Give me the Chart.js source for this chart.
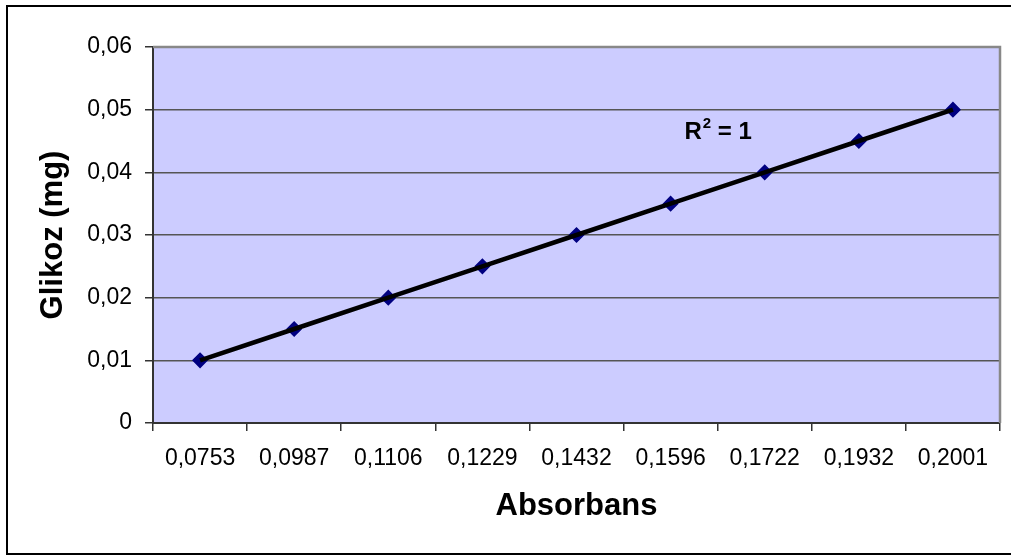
<!DOCTYPE html>
<html>
<head>
<meta charset="utf-8">
<title>Glikoz kalibrasyon</title>
<script src="https://cdn.jsdelivr.net/npm/chart.js@4.4.1/dist/chart.umd.min.js"></script>
<style>
  body { margin: 0; background: #ffffff; }
  #myChart { display: block; }
</style>
</head>
<body>
<canvas id="myChart" width="1011" height="556"></canvas>
<script>
/*
  Glikoz calibration chart: absorbance readings on the x axis,
  glucose amount (mg) on the y axis, with the R^2 of the trend line
*/

// Absorbance readings (category labels of the x axis)
const absorbans = ["0,0753", "0,0987", "0,1106", "0,1229", "0,1432", "0,1596", "0,1722", "0,1932", "0,2001"];

// Glucose amounts for each reading
const glikoz = [0.01, 0.015, 0.02, 0.025, 0.03, 0.035, 0.04, 0.045, 0.05];

// Tick labels of the y axis (comma decimals)
const yTickLabels = ["0", "0,01", "0,02", "0,03", "0,04", "0,05", "0,06"];

// Trend line note
const r2Text = { base: "R", sup: "2", rest: " = 1" };

const FONT = "'Liberation Sans', Arial, sans-serif";

// Fill the plot area and draw the frames around it and around the chart
const framePlugin = {
  id: "frame",
  beforeDraw(chart) {
    const ctx = chart.ctx;
    const a = chart.chartArea;
    ctx.save();
    ctx.fillStyle = "#ffffff";
    ctx.fillRect(0, 0, chart.width, chart.height);
    ctx.fillStyle = "#ccccff";
    ctx.fillRect(a.left, a.top, a.right - a.left, a.bottom - a.top);
    ctx.restore();
  },
  beforeDatasetsDraw(chart) {
    const ctx = chart.ctx;
    const a = chart.chartArea;
    ctx.save();
    ctx.strokeStyle = "#888888";
    ctx.lineWidth = 2.5;
    ctx.beginPath();
    ctx.moveTo(a.left, a.top);
    ctx.lineTo(a.right, a.top);
    ctx.lineTo(a.right, a.bottom);
    ctx.stroke();
    // outer chart border
    ctx.strokeStyle = "#000000";
    ctx.lineWidth = 2;
    ctx.strokeRect(7, 6, chart.width, 548);
    ctx.restore();
  },
  afterDatasetsDraw(chart) {
    // R^2 note next to the line, placed through the scales
    const ctx = chart.ctx;
    const x = chart.scales.x.getPixelForValue(5.5);
    const y = chart.scales.y.getPixelForValue(0.0463);
    ctx.save();
    ctx.fillStyle = "#000000";
    ctx.textBaseline = "middle";
    ctx.font = "bold 24px " + FONT;
    const w1 = ctx.measureText(r2Text.base).width;
    const w3 = ctx.measureText(r2Text.rest).width;
    ctx.font = "bold 15px " + FONT;
    const w2 = ctx.measureText(r2Text.sup).width;
    let left = x - (w1 + w2 + w3) / 2;
    ctx.font = "bold 24px " + FONT;
    ctx.fillText(r2Text.base, left, y);
    ctx.font = "bold 15px " + FONT;
    ctx.fillText(r2Text.sup, left + w1 + 1, y - 9);
    ctx.font = "bold 24px " + FONT;
    ctx.fillText(r2Text.rest, left + w1 + w2 + 1, y);
    ctx.restore();
  }
};

const data = {
  labels: absorbans,
  datasets: [
    {
      label: "Glikoz",
      data: glikoz,
      borderColor: "#000000",
      borderWidth: 4.5,
      pointRadius: 0,
      fill: false,
      tension: 0,
      order: 1
    },
    {
      label: "Glikoz noktalar",
      data: glikoz,
      showLine: false,
      pointStyle: "rectRot",
      pointRadius: 7,
      pointBorderWidth: 1.5,
      pointBackgroundColor: "#000080",
      pointBorderColor: "#000080",
      order: 2
    }
  ]
};

const config = {
  type: "line",
  data,
  options: {
    responsive: false,
    animation: false,
    layout: { padding: { top: 47, right: 11, left: 0, bottom: 0 } },
    plugins: {
      legend: { display: false },
      tooltip: { enabled: false }
    },
    scales: {
      x: {
        offset: true,
        afterFit(scale) { scale.height = 133; },
        grid: {
          offset: true,
          drawOnChartArea: false,
          drawTicks: true,
          tickLength: 8,
          tickColor: "#333333",
          lineWidth: 1.5
        },
        border: { color: "#333333", width: 2 },
        ticks: {
          color: "#000000",
          padding: 14,
          maxRotation: 0,
          autoSkip: false,
          font: { family: FONT, size: 23 }
        },
        title: {
          display: true,
          text: "Absorbans",
          color: "#000000",
          padding: { top: 0, bottom: 31 },
          font: { family: FONT, size: 31, weight: "bold" }
        }
      },
      y: {
        min: 0,
        max: 0.06,
        afterFit(scale) { scale.width = 153; },
        grid: {
          color: "#555555",
          lineWidth: 1.5,
          tickLength: 8,
          tickColor: "#333333"
        },
        border: { color: "#333333", width: 2 },
        ticks: {
          stepSize: 0.01,
          color: "#000000",
          padding: 13,
          font: { family: FONT, size: 23 },
          callback: function (value, index) {
            return yTickLabels[index];
          }
        },
        title: {
          display: true,
          text: "Glikoz (mg)",
          color: "#000000",
          padding: { top: 35, bottom: 0 },
          font: { family: FONT, size: 31, weight: "bold" }
        }
      }
    }
  },
  plugins: [framePlugin]
};

// Create the chart
const myChart = new Chart(document.getElementById("myChart"), config);
</script>
</body>
</html>
